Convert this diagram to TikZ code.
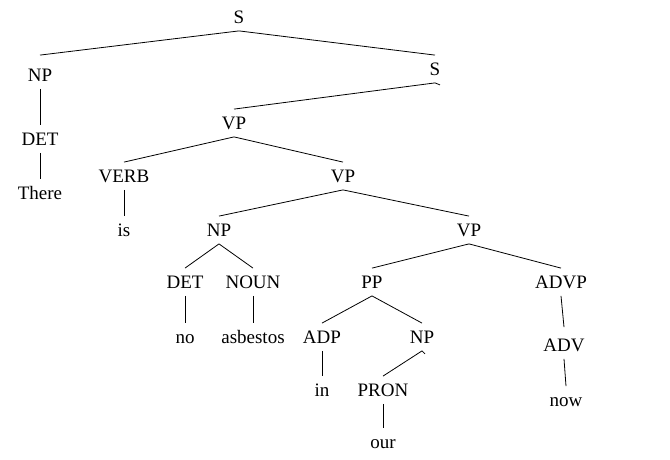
\documentclass[tikz,border=0pt]{standalone}
\usepackage{fontspec}
\setmainfont{Liberation Serif}
\tikzset{every picture/.style={line width=0.8pt}}
\tikzset{lab/.style={inner sep=0pt,minimum height=27pt,text height=12.6pt,text depth=0pt,font=\fontsize{19}{22}\selectfont}}

\begin{document}
\begin{tikzpicture}[x=1pt,y=-1pt]
\useasboundingbox (0,0) rectangle (670,460);
% labels
\node[lab] (s1) at (239,17) {S}; %root
\node[lab] (np1) at (40,75) {NP};
\node[lab] (s2) at (435,69) {S};
\node[lab] (det1) at (40,139) {DET};
\node[lab] (there) at (40,193) {There};
\node[lab] (vp1) at (234,123) {VP};
\node[lab] (verb) at (124,176) {VERB};
\node[lab] (vp2) at (343,176) {VP};
\node[lab] (is) at (124,230) {is};
\node[lab] (np2) at (219,230) {NP};
\node[lab] (vp3) at (469,230) {VP};
\node[lab] (det2) at (185,282) {DET};
\node[lab] (noun) at (253,282) {NOUN};
\node[lab] (pp) at (372,282) {PP};
\node[lab] (advp) at (561,282) {ADVP};
\node[lab] (no) at (185,337) {no};
\node[lab] (asb) at (253,337) {asbestos};
\node[lab] (adp) at (322,337) {ADP};
\node[lab] (np3) at (422,337) {NP};
\node[lab] (adv) at (564,345) {ADV};
\node[lab] (in) at (322,390) {in};
\node[lab] (pron) at (383,390) {PRON};
\node[lab] (now) at (566,400) {now};
\node[lab] (our) at (383,442) {our};
% branches
\draw (s1.south)--([yshift=6pt]np1.north);
\draw (s1.south)--(s2.north);
\draw (np1.south)--(det1.north);
\draw (det1.south)--(there.north);
\draw (vp1.north)--(s2.south)--++(5,2); %hook
\draw (vp1.south)--(verb.north);
\draw (vp1.south)--(vp2.north);
\draw (verb.south)--(is.north);
\draw (vp2.south)--(np2.north);
\draw (vp2.south)--(vp3.north);
\draw (np2.south)--(det2.north);
\draw (np2.south)--(noun.north);
\draw (vp3.south)--(pp.north);
\draw (vp3.south)--(advp.north);
\draw (det2.south)--(no.north);
\draw (noun.south)--(asb.north);
\draw (pp.south)--(adp.north);
\draw (pp.south)--(np3.north);
\draw (advp.south)--([yshift=4pt]adv.north);
\draw (adp.south)--(in.north);
\draw (pron.north)--(np3.south)--++(3,3); %hook
\draw (adv.south)--(now.north);
\draw (pron.south)--(our.north);
\end{tikzpicture}
\end{document}
